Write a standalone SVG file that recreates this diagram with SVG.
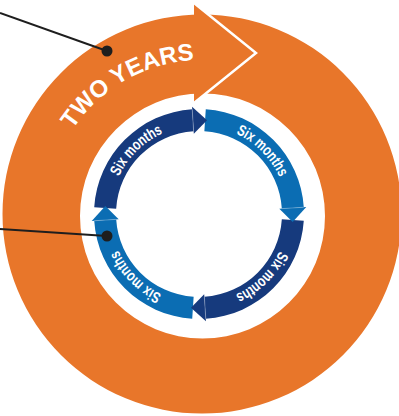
<svg xmlns="http://www.w3.org/2000/svg" xmlns:xlink="http://www.w3.org/1999/xlink" width="399" height="416" viewBox="0 0 399 416">
<style>
.orange{fill:#E8762A}
.dark{fill:#163A7D}
.light{fill:#0B6DB3}
.seam{stroke:#ffffff;stroke-opacity:0.35;stroke-width:0.8;fill:none}
.six{font-family:"Liberation Sans",Arial,sans-serif;font-weight:bold;font-size:15.5px;fill:#ffffff}
.two{font-family:"Liberation Sans",Arial,sans-serif;font-weight:bold;font-size:24px;fill:#ffffff}
.leader{stroke:#1e1e1e;stroke-width:2;fill:none}
.dot{fill:#1e1e1e}
</style>
<defs>
<path id="body" d="M205.78,109.22 A105,105 0 0 1 303.78,207.22 L281.83,208.64 A83,83 0 0 0 204.36,131.17 Z"/>
<path id="head" d="M306.28,207.06 L292.66,222.03 L279.33,208.81 Z"/>
<path id="seamline" d="M303.78,207.22 L281.83,208.64"/>
<path id="blueCircle" d="M199,125.5 A88.5,88.5 0 1 1 199,302.5 A88.5,88.5 0 1 1 199,125.5"/>
<path id="orangeCircle" d="M47,215 A155,155 0 1 1 357,215 A155,155 0 1 1 47,215"/>
</defs>

<g id="two-years">
<path class="orange" fill-rule="evenodd" d="M2.5,214 A199.5,199.5 0 1 1 401.5,214 A199.5,199.5 0 1 1 2.5,214 Z M80,216 A122.5,122.5 0 1 0 325,216 A122.5,122.5 0 1 0 80,216 Z"/>
<polygon class="orange" points="194,3 256,53 194,103"/>
<polyline points="194,3 256,53 194,103" fill="none" stroke="#ffffff" stroke-width="2.5" stroke-linejoin="miter"/>
<text class="two"><textPath xlink:href="#orangeCircle" href="#orangeCircle" startOffset="163" text-anchor="middle">TWO YEARS</textPath></text>
</g>

<g id="six-months-1">
<use href="#body" xlink:href="#body" class="light"/>
</g>
<g id="six-months-2">
<use href="#body" xlink:href="#body" class="dark" transform="rotate(90 199 214)"/>
</g>
<g id="six-months-3">
<use href="#body" xlink:href="#body" class="light" transform="rotate(180 199 214)"/>
</g>
<g id="six-months-4">
<use href="#body" xlink:href="#body" class="dark" transform="rotate(270 199 214)"/>
</g>
<g id="arrowheads">
<use href="#head" xlink:href="#head" class="light"/>
<use href="#seamline" xlink:href="#seamline" class="seam"/>
<use href="#head" xlink:href="#head" class="dark" transform="rotate(90 199 214)"/>
<use href="#seamline" xlink:href="#seamline" class="seam" transform="rotate(90 199 214)"/>
<use href="#head" xlink:href="#head" class="light" transform="rotate(180 199 214)"/>
<use href="#seamline" xlink:href="#seamline" class="seam" transform="rotate(180 199 214)"/>
<use href="#head" xlink:href="#head" class="dark" transform="rotate(270 199 214)"/>
<use href="#seamline" xlink:href="#seamline" class="seam" transform="rotate(270 199 214)"/>
</g>
<g id="labels">
<text class="six"><textPath href="#blueCircle" xlink:href="#blueCircle" startOffset="69.5" text-anchor="middle" textLength="63" lengthAdjust="spacingAndGlyphs">Six months</textPath></text>
<text class="six"><textPath href="#blueCircle" xlink:href="#blueCircle" startOffset="208.5" text-anchor="middle" textLength="63" lengthAdjust="spacingAndGlyphs">Six months</textPath></text>
<text class="six"><textPath href="#blueCircle" xlink:href="#blueCircle" startOffset="347.5" text-anchor="middle" textLength="63" lengthAdjust="spacingAndGlyphs">Six months</textPath></text>
<text class="six"><textPath href="#blueCircle" xlink:href="#blueCircle" startOffset="486.5" text-anchor="middle" textLength="63" lengthAdjust="spacingAndGlyphs">Six months</textPath></text>
</g>

<g id="connectors">
<line class="leader" x1="0" y1="13" x2="107" y2="51"/>
<circle class="dot" cx="107" cy="51" r="5.5"/>
<line class="leader" x1="0" y1="229" x2="107" y2="236"/>
<circle class="dot" cx="107" cy="236" r="5.5"/>
</g>
</svg>
